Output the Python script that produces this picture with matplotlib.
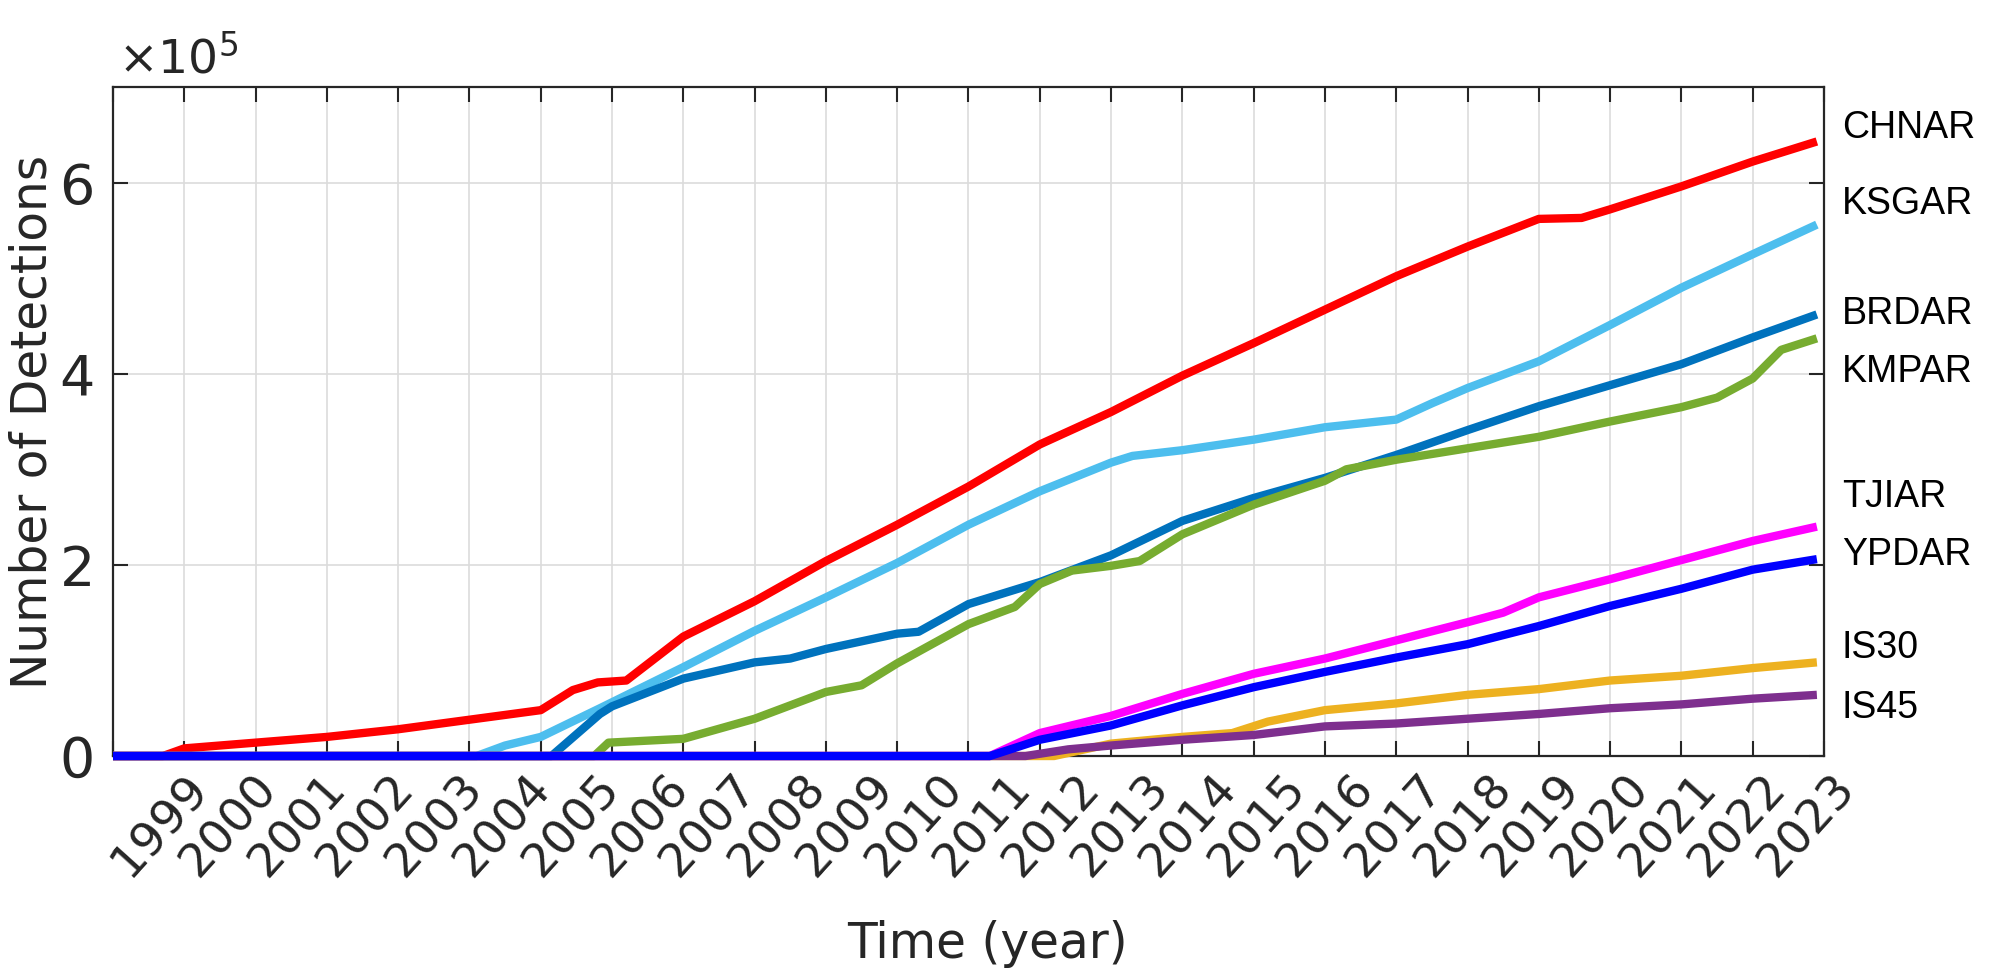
import matplotlib
matplotlib.use('Agg')
import matplotlib.pyplot as plt
import matplotlib.transforms as mtransforms

# cumulative detections, in units of 1e5
chnar_t = [1999.0, 1999.7, 2000, 2001, 2002, 2003, 2004, 2005, 2005.45, 2005.8, 2006.2, 2007, 2008, 2009,
           2010, 2011, 2012, 2013, 2014, 2015, 2016, 2017, 2018, 2019, 2019.6, 2020, 2021, 2022, 2022.9]
chnar_v = [0, 0, 0.08, 0.14, 0.20, 0.28, 0.38, 0.48, 0.69, 0.77, 0.79, 1.25, 1.62, 2.04,
           2.42, 2.82, 3.26, 3.60, 3.98, 4.32, 4.67, 5.02, 5.33, 5.62, 5.63, 5.72, 5.96, 6.22, 6.43]

ksgar_t = [1999.0, 2004.1, 2004.5, 2005, 2005.83, 2007, 2008, 2009, 2010, 2011, 2012, 2013, 2013.3, 2014,
           2015, 2016, 2017, 2017.5, 2018, 2019, 2020, 2021, 2022, 2022.9]
ksgar_v = [0, 0, 0.11, 0.20, 0.50, 0.93, 1.31, 1.66, 2.02, 2.42, 2.77, 3.07, 3.14, 3.20,
           3.31, 3.44, 3.52, 3.69, 3.85, 4.13, 4.51, 4.90, 5.25, 5.56]

brdar_t = [1999.0, 2005.15, 2005.83, 2006, 2007, 2008, 2008.5, 2009, 2010, 2010.3, 2011, 2012, 2013, 2014,
           2015, 2016, 2017, 2018, 2019, 2020, 2021, 2022, 2022.9]
brdar_v = [0, 0, 0.44, 0.52, 0.81, 0.98, 1.02, 1.12, 1.28, 1.30, 1.59, 1.82, 2.10, 2.46,
           2.70, 2.91, 3.15, 3.41, 3.66, 3.88, 4.10, 4.38, 4.62]

kmpar_t = [1999.0, 2005.75, 2005.95, 2007, 2008, 2009, 2009.5, 2010, 2011, 2011.65, 2012, 2012.45, 2013,
           2013.4, 2014, 2015, 2016, 2016.3, 2017, 2018, 2019, 2020, 2021, 2021.5, 2022, 2022.4, 2022.9]
kmpar_v = [0, 0, 0.14, 0.18, 0.39, 0.67, 0.74, 0.97, 1.38, 1.56, 1.80, 1.94, 1.99,
           2.04, 2.32, 2.63, 2.88, 3.00, 3.10, 3.22, 3.34, 3.50, 3.65, 3.75, 3.95, 4.25, 4.37]

tjiar_t = [1999.0, 2011.3, 2012, 2013, 2014, 2015, 2016, 2017, 2018, 2018.5, 2019, 2020, 2021, 2022, 2022.9]
tjiar_v = [0, 0, 0.24, 0.42, 0.65, 0.86, 1.02, 1.21, 1.40, 1.50, 1.66, 1.85, 2.05, 2.25, 2.40]

ypdar_t = [1999.0, 2011.3, 2012, 2013, 2014, 2015, 2016, 2017, 2018, 2019, 2020, 2021, 2022, 2022.9]
ypdar_v = [0, 0, 0.17, 0.32, 0.53, 0.72, 0.88, 1.03, 1.17, 1.36, 1.57, 1.75, 1.95, 2.06]

is30_t = [1999.0, 2012.2, 2013, 2014, 2014.7, 2015.2, 2016, 2017, 2018, 2019, 2020, 2021, 2022, 2022.9]
is30_v = [0, 0, 0.13, 0.20, 0.24, 0.36, 0.48, 0.55, 0.64, 0.70, 0.79, 0.84, 0.92, 0.98]

is45_t = [1999.0, 2011.8, 2012.4, 2013, 2014, 2015, 2016, 2017, 2018, 2019, 2020, 2021, 2022, 2022.9]
is45_v = [0, 0, 0.07, 0.11, 0.17, 0.22, 0.31, 0.34, 0.39, 0.44, 0.50, 0.54, 0.60, 0.64]

# station name labels on the right, y in units of 1e5
label_names = ['CHNAR', 'KSGAR', 'BRDAR', 'KMPAR', 'TJIAR', 'YPDAR', 'IS30', 'IS45']
label_y = [6.57, 5.78, 4.62, 4.02, 2.71, 2.10, 1.13, 0.50]

years = list(range(1999, 2024))
year_labels = [str(y) for y in years]
yticks = [0, 2, 4, 6]

series = [  # drawing order
    (chnar_t, chnar_v, '#FF0000'),
    (ksgar_t, ksgar_v, '#4DBEEE'),
    (brdar_t, brdar_v, '#0072BD'),
    (kmpar_t, kmpar_v, '#77AC30'),
    (tjiar_t, tjiar_v, '#FF00FF'),
    (is30_t, is30_v, '#EDB120'),
    (is45_t, is45_v, '#7E2F8E'),
    (ypdar_t, ypdar_v, '#0000FF'),
]

fig = plt.figure(figsize=(19.93, 9.71), dpi=100)
ax = fig.add_axes([0.0567, 0.2214, 0.8585, 0.689])

for t, v, c in series:
    ax.plot(t, v, color=c, lw=6, solid_capstyle='butt', clip_on=False, zorder=3)

ax.set_xlim(1999, 2023)
ax.set_ylim(0, 7)
ax.set_xticks(years)
ax.set_xticklabels(year_labels, fontsize=34, rotation=48, ha='right', va='top',
                   rotation_mode='anchor', color='#262626')
ax.set_yticks(yticks)
ax.set_yticklabels([str(v) for v in yticks], fontsize=40, color='#262626')

ax.grid(True, color='#dcdcdc', lw=1.2, zorder=0)
ax.tick_params(axis='both', direction='in', length=11, width=1.5, colors='#262626',
               top=True, right=True)
ax.tick_params(axis='x', pad=7)
ax.tick_params(axis='y', pad=13)
for sp in ax.spines.values():
    sp.set_color('#262626')
    sp.set_linewidth(1.6)

# the year labels sit a bit right of their ticks in the original
for k, lab in enumerate(ax.get_xticklabels()):
    dx = (71 - 2.7 * k) / 100.0
    lab.set_transform(lab.get_transform() + mtransforms.ScaledTranslation(dx, 0, fig.dpi_scale_trans))

ax.set_xlabel('Time (year)', fontsize=35, color='#262626')
ax.xaxis.set_label_coords(0.511, -0.245)
ax.set_ylabel('Number of Detections', fontsize=35, color='#262626')
ax.yaxis.set_label_coords(-0.033, 0.5)

ax.text(0.003, 1.02, r'$\times10^{5}$', transform=ax.transAxes, fontsize=34,
        color='#262626', ha='left', va='baseline')

trans = mtransforms.blended_transform_factory(ax.transAxes, ax.transData)
for name, y in zip(label_names, label_y):
    ax.text(1.0105, y, name, transform=trans, ha='left', va='center', fontsize=27,
            family='Liberation Sans', color='black')

fig.savefig('out.png', dpi=100)
